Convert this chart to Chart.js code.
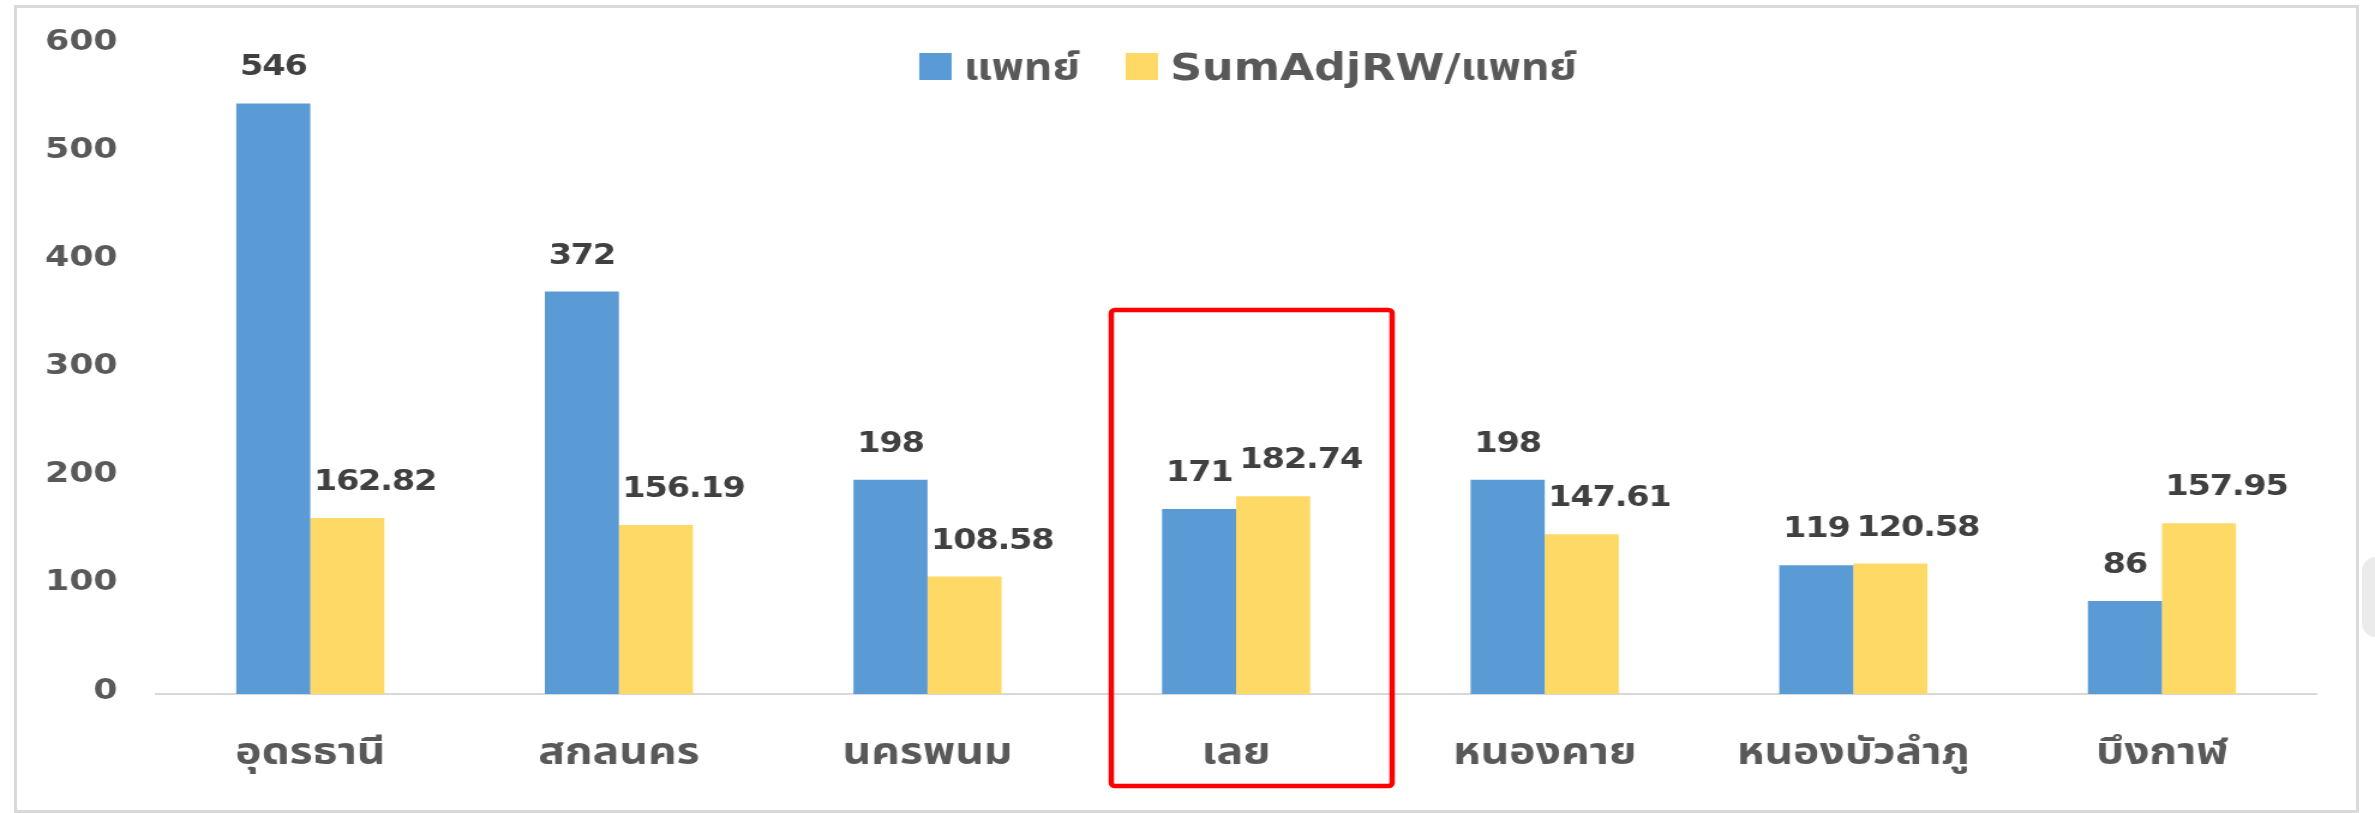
<!DOCTYPE html>
<html lang="th">
<head>
<meta charset="utf-8">
<title>แพทย์ และ SumAdjRW/แพทย์</title>
<script src="https://cdn.jsdelivr.net/npm/chart.js@4/dist/chart.umd.min.js"></script>
<style>
  html, body { margin: 0; padding: 0; background: #fff; width: 2375px; height: 813px; overflow: hidden; }
  .marco { position: absolute; left: 14px; top: 5px; width: 2339px; height: 802px; border: 3px solid #d9d9d9; background: #fff; }
  .sombra { position: absolute; left: 2362px; top: 557px; width: 24px; height: 80px; background: #ebebeb; border-radius: 14px 0 0 14px; }
  #grafico { position: absolute; left: 0; top: 0; }
</style>
</head>
<body>
<div class="marco"></div>
<div class="sombra"></div>
<!-- lienzo algo más estrecho y estirado a lo ancho de la ventana -->
<canvas id="grafico" width="1979" height="813" style="width:2375px;height:813px"></canvas>
<script>
const provincias = ['อุดรธานี', 'สกลนคร', 'นครพนม', 'เลย', 'หนองคาย', 'หนองบัวลำภู', 'บึงกาฬ'];
const medicos = [546, 372, 198, 171, 198, 119, 86];
const sumAdjRW = [162.82, 156.19, 108.58, 182.74, 147.61, 120.58, 157.95];
const ejeMax = 600;
const ejePaso = 100;
const destacada = 3; // เลย

const fuente = '"DejaVu Sans", "Noto Sans Thai", "Noto Sans", sans-serif';

// valores encima de cada barra (los de la segunda serie un poco a la derecha)
const etiquetas = {
  id: 'etiquetas',
  afterDatasetsDraw(chart) {
    const ctx = chart.ctx;
    ctx.save();
    ctx.font = 'bold 28px ' + fuente;
    ctx.fillStyle = '#404040';
    ctx.textAlign = 'center';
    ctx.textBaseline = 'alphabetic';
    if ('letterSpacing' in ctx) ctx.letterSpacing = '-1px';
    chart.data.datasets.forEach((ds, i) => {
      const dx = i === 1 ? 23 : 0;
      chart.getDatasetMeta(i).data.forEach((bar, j) => {
        ctx.fillText(String(ds.data[j]), bar.x + dx, bar.y - 28);
      });
    });
    ctx.restore();
  }
};

// leyenda dentro del área, arriba al centro
const leyenda = {
  id: 'leyenda',
  afterDraw(chart) {
    const ctx = chart.ctx;
    const area = chart.chartArea;
    ctx.save();
    ctx.font = 'bold 37px ' + fuente;
    ctx.textBaseline = 'alphabetic';
    const items = chart.data.datasets.map(ds => ({
      texto: ds.label,
      color: ds.backgroundColor,
      ancho: ctx.measureText(ds.label).width
    }));
    const caja = 27, hueco = 10, sep = 38;
    const total = items.reduce((s, it) => s + caja + hueco + it.ancho, 0) + sep * (items.length - 1);
    let x = (area.left + area.right) / 2 + 10 - total / 2;
    const base = area.top + 35;
    items.forEach(it => {
      ctx.fillStyle = it.color;
      ctx.fillRect(x, base - 27, caja, 27);
      ctx.fillStyle = '#595959';
      ctx.fillText(it.texto, x + caja + hueco, base);
      x += caja + hueco + it.ancho + sep;
    });
    ctx.restore();
  }
};

// recuadro rojo sobre la provincia destacada
const recuadro = {
  id: 'recuadro',
  afterDraw(chart) {
    const ctx = chart.ctx;
    const xs = chart.scales.x, ys = chart.scales.y;
    const cx = xs.getPixelForValue(destacada) + 13;
    const top = ys.getPixelForValue(355);
    const bottom = chart.chartArea.bottom + 92;
    ctx.save();
    ctx.strokeStyle = '#ff0000';
    ctx.lineWidth = 4.5;
    ctx.beginPath();
    ctx.roundRect(cx - 117, top, 234, bottom - top, 3);
    ctx.stroke();
    ctx.restore();
  }
};

new Chart(document.getElementById('grafico'), {
  type: 'bar',
  data: {
    labels: provincias,
    datasets: [
      { label: 'แพทย์', data: medicos, backgroundColor: '#5b9bd5' },
      { label: 'SumAdjRW/แพทย์', data: sumAdjRW, backgroundColor: '#ffd966' }
    ]
  },
  options: {
    responsive: false,
    animation: false,
    layout: { padding: { top: 45, right: 49, bottom: 0, left: 0 } },
    datasets: { bar: { barPercentage: 1, categoryPercentage: 0.48 } },
    plugins: { legend: { display: false }, tooltip: { enabled: false } },
    scales: {
      x: {
        grid: { display: false, drawTicks: false },
        border: { display: true, color: '#d9d9d9', width: 2 },
        ticks: { color: '#595959', font: { family: fuente, size: 37, weight: 'bold' }, padding: 38 },
        afterFit: s => { s.height = 119; }
      },
      y: {
        min: 0,
        max: ejeMax,
        grid: { display: false, drawTicks: false },
        border: { display: false },
        ticks: { stepSize: ejePaso, color: '#595959', font: { family: fuente, size: 29, weight: 'bold' }, padding: 32, labelOffset: -3 },
        afterFit: s => {
          s.width = 130;
          s.paddingTop = 20;
          s.paddingBottom = 20;
        }
      }
    }
  },
  plugins: [etiquetas, leyenda, recuadro]
});
</script>
</body>
</html>
